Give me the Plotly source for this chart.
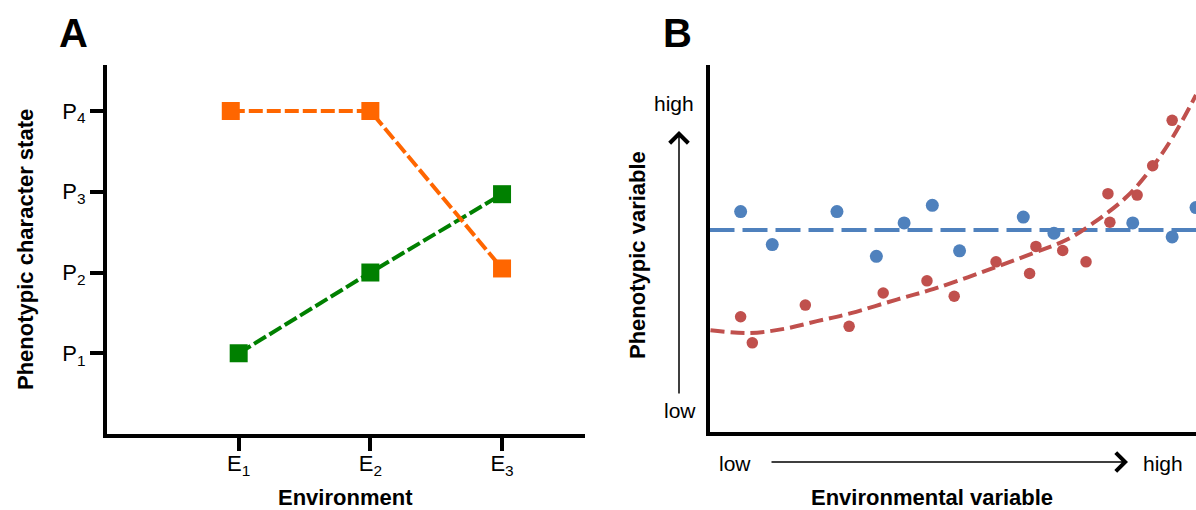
import plotly.graph_objects as go

W, H = 1196, 510
FONT = "Liberation Sans, Arial, sans-serif"

# ---------------- Panel A data ----------------
env_ticks = [1, 2, 3]
env_labels = ["E<sub>1</sub>", "E<sub>2</sub>", "E<sub>3</sub>"]
pheno_ticks = [1, 2, 3, 4]
pheno_labels = ["P<sub>1</sub>", "P<sub>2</sub>", "P<sub>3</sub>", "P<sub>4</sub>"]

orange_x = [0.94, 2.0, 3.0]
orange_y = [4.0, 4.0, 2.05]
green_x = [1.0, 2.0, 3.0]
green_y = [1.0, 2.0, 2.97]

# ---------------- Panel B data ----------------
blue_x = [0.64, 1.29, 2.62, 3.43, 4.00, 4.58, 5.14, 6.45, 7.08, 8.70, 9.51, 10.0]
blue_y = [6.00, 5.10, 6.00, 4.78, 5.69, 6.17, 4.93, 5.85, 5.41, 5.69, 5.31, 6.11]
blue_fit_x = [0.0, 10.0]
blue_fit_y = [5.50, 5.50]

red_x = [0.64, 0.88, 1.97, 2.87, 3.57, 4.47, 5.03, 5.89, 6.58, 6.71, 7.26, 7.74,
         8.19, 8.23, 8.79, 9.11, 9.51]
red_y = [3.13, 2.42, 3.45, 2.87, 3.78, 4.11, 3.69, 4.63, 4.31, 5.05, 4.94, 4.63,
         6.49, 5.71, 6.45, 7.25, 8.49]
red_fit_x = [0.02, 0.84, 1.53, 2.21, 2.91, 3.85, 4.61, 5.63, 6.66, 7.34, 7.89,
             8.58, 9.06, 9.53, 10.0]
red_fit_y = [2.76, 2.69, 2.80, 3.01, 3.23, 3.60, 3.89, 4.36, 4.87, 5.23, 5.69,
             6.41, 7.14, 8.05, 9.18]

ORANGE = "#FF6600"
GREEN = "#008000"
BLUE = "#4F81BD"
RED = "#C0504D"

fig = go.Figure()

# Panel A
fig.add_trace(go.Scatter(x=green_x, y=green_y, mode="lines+markers",
                         line=dict(color=GREEN, width=4, dash="14px,4px"),
                         marker=dict(symbol="square", size=18, color=GREEN),
                         xaxis="x", yaxis="y", showlegend=False))
fig.add_trace(go.Scatter(x=orange_x, y=orange_y, mode="lines+markers",
                         line=dict(color=ORANGE, width=4, dash="14px,4px"),
                         marker=dict(symbol="square", size=18, color=ORANGE),
                         xaxis="x", yaxis="y", showlegend=False))

# Panel B
fig.add_trace(go.Scatter(x=blue_fit_x, y=blue_fit_y, mode="lines",
                         line=dict(color=BLUE, width=4, dash="25px,8px"),
                         xaxis="x2", yaxis="y2", showlegend=False))
fig.add_trace(go.Scatter(x=red_fit_x, y=red_fit_y, mode="lines",
                         line=dict(color=RED, width=4, dash="14px,6px", shape="spline"),
                         xaxis="x2", yaxis="y2", showlegend=False))
fig.add_trace(go.Scatter(x=blue_x, y=blue_y, mode="markers",
                         marker=dict(size=13, color=BLUE),
                         xaxis="x2", yaxis="y2", showlegend=False))
fig.add_trace(go.Scatter(x=red_x, y=red_y, mode="markers",
                         marker=dict(size=11.5, color=RED),
                         xaxis="x2", yaxis="y2", showlegend=False))


def px(x):
    return x / W


def py(y):
    return 1 - y / H


axis_common = dict(showline=True, linecolor="black", linewidth=4, showgrid=False,
                   zeroline=False, mirror=False, fixedrange=True)

fig.update_layout(
    width=W, height=H,
    margin=dict(l=0, r=0, t=0, b=0),
    paper_bgcolor="white", plot_bgcolor="white",
    font=dict(family=FONT, color="black"),
    xaxis=dict(domain=[px(107), px(585)], range=[0, 3.63], anchor="y",
               tickmode="array", tickvals=env_ticks, ticktext=env_labels,
               ticks="outside", ticklen=13, tickwidth=4, tickcolor="black",
               ticklabelstandoff=-6,
               tickfont=dict(size=22, family=FONT), **axis_common),
    yaxis=dict(domain=[1 - 434 / H, 1 - 65 / H], range=[0, 4.57], anchor="x",
               tickmode="array", tickvals=pheno_ticks, ticktext=pheno_labels,
               ticks="outside", ticklen=13, tickwidth=4, tickcolor="black",
               tickfont=dict(size=22, family=FONT), **axis_common),
    xaxis2=dict(domain=[px(709.5), 1.0], range=[0, 10], anchor="y2",
                showticklabels=False, ticks="", **axis_common),
    yaxis2=dict(domain=[1 - 431.5 / H, 1 - 65 / H], range=[0, 10], anchor="x2",
                showticklabels=False, ticks="", **axis_common),
)

ann = []


def text(x, y, s, size, bold=False, angle=0):
    ann.append(dict(x=px(x), y=py(y), xref="paper", yref="paper", text=s,
                    showarrow=False, xanchor="center", yanchor="middle",
                    textangle=angle,
                    font=dict(size=size, family=FONT, color="black",
                              weight="bold" if bold else "normal")))


text(73, 33, "A", 40, bold=True)
text(677, 33, "B", 40, bold=True)
text(25, 250, "Phenotypic character state", 22, bold=True, angle=-90)
text(346, 497, "Environment", 22, bold=True)
text(637, 255, "Phenotypic variable", 22, bold=True, angle=-90)
text(932, 497, "Environmental variable", 22, bold=True)
text(674, 104, "high", 21)
text(680, 410, "low", 21)
text(735, 463, "low", 21)
text(1163, 463, "high", 21)

# arrows
ann.append(dict(x=px(679), y=py(131), xref="paper", yref="paper", ax=0, ay=264,
                text="", showarrow=True, arrowhead=4, arrowsize=2.4, arrowwidth=1.5,
                arrowcolor="black"))
ann.append(dict(x=px(1128), y=py(462), xref="paper", yref="paper", ax=-358, ay=0,
                text="", showarrow=True, arrowhead=4, arrowsize=2.4, arrowwidth=1.5,
                arrowcolor="black"))

fig.update_layout(annotations=ann)

fig.write_html("out.html",
               config={"displayModeBar": False},
               post_script="document.body.style.margin='0px';"
                           "document.body.style.padding='0px';"
                           "document.body.style.overflow='hidden';")
